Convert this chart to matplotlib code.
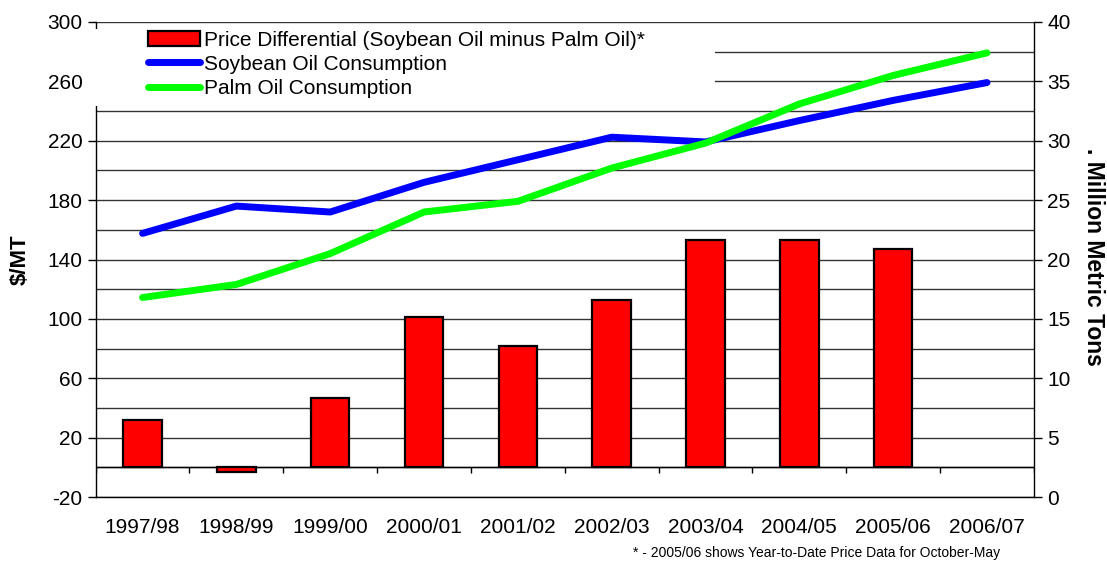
import matplotlib
matplotlib.use('Agg')
import matplotlib.pyplot as plt
import numpy as np
from matplotlib.patches import Rectangle

plt.rcParams['font.family'] = ['Liberation Sans', 'DejaVu Sans']
plt.rcParams['axes.unicode_minus'] = False

years = ['1997/98', '1998/99', '1999/00', '2000/01', '2001/02',
         '2002/03', '2003/04', '2004/05', '2005/06', '2006/07']
price_diff = [32, -3, 47, 101, 82, 113, 153, 153, 147, np.nan]
soy_cons = [22.2, 24.5, 24.0, 26.5, 28.4, 30.3, 29.9, 31.7, 33.4, 34.9]
palm_cons = [16.8, 17.9, 20.5, 24.0, 24.9, 27.7, 29.8, 33.1, 35.5, 37.4]

fig = plt.figure(figsize=(11.07, 5.61), dpi=100)
ax = fig.add_axes([0.0864, 0.114, 0.8476, 0.8468])
ax2 = ax.twinx()

x = np.arange(len(years))

# bars on the $/MT axis
bars = ax.bar(x, price_diff, width=0.41, color='#FF0000', edgecolor='black',
              linewidth=1.6, zorder=3, label='Price Differential (Soybean Oil minus Palm Oil)*')

ax.set_xlim(-0.5, len(years) - 0.5)
ax.set_ylim(-20, 300)
ax.set_yticks(np.arange(-20, 301, 40))
ax.set_yticks(np.arange(0, 300, 40), minor=True)
ax.grid(axis='y', which='both', color='#333333', linewidth=1, zorder=0)
ax.set_axisbelow(True)
ax.tick_params(axis='y', which='major', direction='out', length=6, labelsize=15, width=1)
ax.tick_params(axis='y', which='minor', length=0)
ax.set_xticks(x)
ax.set_xticklabels(years)
ax.tick_params(axis='x', length=0, labelsize=15, pad=15)
for s in ['top', 'right']:
    ax.spines[s].set_visible(False)
ax.spines['left'].set_linewidth(1)
ax.spines['bottom'].set_linewidth(1)
ax.set_ylabel('$/MT', fontsize=16, fontweight='bold', labelpad=12)

# category axis sits on zero
ax.axhline(0, color='black', linewidth=1, zorder=2)
bounds = np.arange(len(years) + 1) - 0.5
ax.vlines(bounds, -3.6, 0, color='black', linewidth=1, zorder=2)

# consumption lines on right axis
ax2.plot(x, soy_cons, color='#0000FF', linewidth=5, solid_capstyle='round',
         solid_joinstyle='round', label='Soybean Oil Consumption', zorder=4)
ax2.plot(x, palm_cons, color='#00FF00', linewidth=5, solid_capstyle='round',
         solid_joinstyle='round', label='Palm Oil Consumption', zorder=4)
ax2.set_ylim(0, 40)
ax2.set_yticks(np.arange(0, 41, 5))
ax2.tick_params(axis='y', direction='out', length=6, labelsize=15, width=1)
for s in ['top', 'bottom', 'left']:
    ax2.spines[s].set_visible(False)
ax2.spines['right'].set_linewidth(1)
ax2.set_ylabel('. Million Metric Tons', fontsize=16.5, fontweight='bold',
               rotation=270)
ax2.yaxis.set_label_coords(1.076, 0.505)

# white legend backdrop that hides grid and spine
ax2.add_patch(Rectangle((-0.01, 0.823), 0.67, 0.163, transform=ax2.transAxes,
                        facecolor='white', edgecolor='none', zorder=5, clip_on=False))

handles = [bars] + ax2.get_lines()
leg = ax2.legend(handles, [h.get_label() for h in handles], loc='upper left',
                 bbox_to_anchor=(0.0558, 0.982), frameon=False, fontsize=15,
                 borderpad=0, labelspacing=0.25, handlelength=2.5,
                 handletextpad=0.2, borderaxespad=0)
leg.set_zorder(6)

fig.text(1000 / 1107, 0.0143, '* - 2005/06 shows Year-to-Date Price Data for October-May',
         ha='right', va='center', fontsize=10)

fig.savefig('out.png', dpi=100)
